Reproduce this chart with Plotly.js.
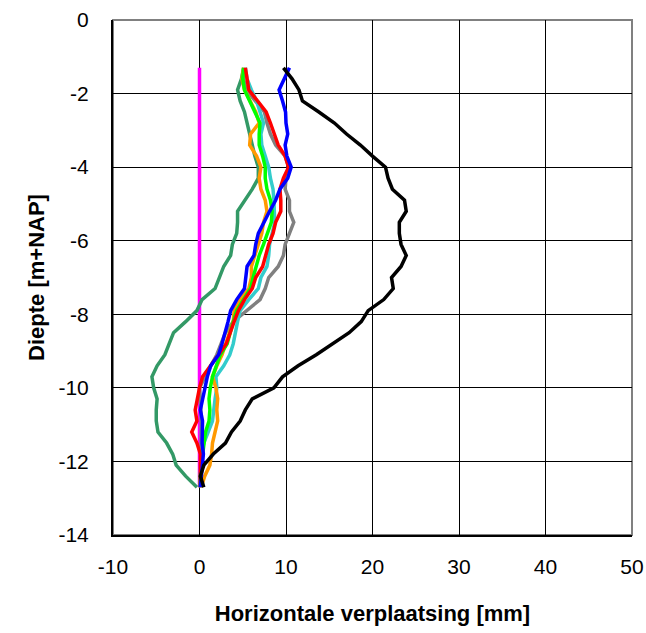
<!DOCTYPE html>
<html>
<head>
<meta charset="utf-8">
<script src="https://cdn.plot.ly/plotly-3.0.1.min.js"></script>
<style>html,body{margin:0;padding:0;background:#fff;}#chart{width:646px;height:633px;}</style>
</head>
<body>
<div id="chart"></div>
<script>
// Depth (m+NAP)
const depth = [-1.3,-1.6,-1.9,-2.2,-2.5,-2.8,-3.1,-3.4,-3.7,-4.0,-4.3,-4.6,-4.9,-5.2,-5.5,-5.8,-6.1,-6.4,-6.7,-7.0,-7.3,-7.6,-7.9,-8.2,-8.5,-8.8,-9.1,-9.4,-9.7,-10.0,-10.3,-10.6,-10.9,-11.2,-11.5,-11.8,-12.1,-12.4,-12.7];

// Horizontal displacement (mm) per measurement
const magenta = [0,0,0,0,0,0,0,0,0,0,0,0,0,0,0,0,0,0,0,0,0,0,0,0,0,0,0,0,0,0,0,0,0,0,0,0,0,0,0];
const seagreen = [5.1,4.85,4.4,4.7,5.2,5.5,5.7,6.0,6.4,6.8,6.8,6.1,5.3,4.4,4.4,4.3,3.8,3.6,2.8,2.3,1.8,0.3,-0.3,-1.6,-3.0,-3.5,-4.0,-4.9,-5.5,-5.3,-4.9,-5.0,-5.0,-4.8,-3.8,-3.1,-2.7,-1.6,-0.3];
const grey = [5.3,5.1,5.4,6.5,7.5,7.8,8.2,8.8,9.9,10.3,10.0,9.9,10.4,10.4,10.9,10.4,9.9,9.7,9.1,8.0,7.6,7.0,5.4,3.9,3.0,2.5,2.0,1.3,0.6,0.0,0.1,0.2,0.2,0.2,0.2,0.2,0.2,0.1,0.1];
const turquoise = [5.3,5.5,6.0,6.6,7.0,7.4,7.1,7.2,7.6,8.0,8.2,8.5,8.6,8.7,8.7,8.4,8.1,8.0,7.8,7.1,6.8,5.7,4.7,4.4,4.2,3.9,3.5,2.8,1.9,2.0,1.8,1.6,1.5,1.0,0.5,0.2,0.1,0.1,0.1];
const orange = [5.1,4.9,5.2,5.9,6.5,6.9,5.9,5.8,6.6,7.1,6.9,7.1,7.6,7.8,7.4,7.2,6.8,6.3,6.0,6.0,5.7,4.7,4.0,3.9,3.5,3.1,2.6,2.0,1.5,1.9,2.1,2.0,2.1,1.8,1.5,1.4,1.2,0.6,0.2];
const lime = [5.1,5.0,5.2,5.8,6.4,7.0,6.9,6.9,7.3,7.6,7.6,7.8,8.2,8.4,8.3,7.9,7.4,6.9,6.5,6.2,5.9,5.1,4.3,3.9,3.6,3.2,2.4,1.9,1.5,1.25,1.1,1.2,1.1,0.7,0.5,0.3,0.2,0.1,0.1];
const red = [5.3,5.5,5.7,6.7,7.7,8.2,8.6,9.1,9.9,10.3,9.7,9.3,9.4,9.4,8.8,8.5,8.0,7.6,7.3,6.5,6.1,5.2,4.5,4.0,3.6,3.1,2.2,1.3,0.35,0.0,-0.3,-0.5,-0.3,-0.9,-0.3,0.1,0.1,0.1,0.1];
const blue = [10.4,9.8,9.2,9.6,9.95,10.0,10.2,9.9,10.1,10.6,10.2,9.3,8.8,8.1,7.5,6.8,6.5,6.3,5.5,5.4,5.2,4.3,3.6,3.3,3.0,2.6,2.2,1.3,0.9,0.6,0.35,0.1,0.35,0.3,0.3,0.45,0.3,0.2,0.1];
const black = [9.7,10.7,11.5,11.9,13.8,15.6,17.0,18.6,20.0,21.5,21.8,22.3,23.7,23.9,23.1,23.1,23.3,23.9,23.3,22.2,22.4,21.3,19.5,18.7,17.3,15.4,13.5,11.4,9.6,8.6,6.1,5.3,4.7,3.7,3.0,1.6,0.5,0.1,0.5];

const xTickVals = [-10,0,10,20,30,40,50];
const yTickVals = [-14,-12,-10,-8,-6,-4,-2,0];
const xTitle = 'Horizontale verplaatsing [mm]';
const yTitle = 'Diepte [m+NAP]';

const series = [
  {x: magenta, color: '#ff00ff'},
  {x: seagreen, color: '#339966'},
  {x: grey, color: '#808080'},
  {x: turquoise, color: '#33cccc'},
  {x: orange, color: '#ff9900'},
  {x: lime, color: '#00ff00'},
  {x: red, color: '#ff0000'},
  {x: blue, color: '#0000ff'},
  {x: black, color: '#000000'}
];

const traces = series.map(s => ({
  type: 'scatter', mode: 'lines', x: s.x, y: depth,
  line: {color: s.color, width: 3.5}, hoverinfo: 'skip', showlegend: false
}));

const font = {family: '"Liberation Sans", Arial, sans-serif', color: '#000'};

const layout = {
  width: 646, height: 633,
  margin: {l: 112.5, r: 14, t: 20, b: 98, pad: 0},
  paper_bgcolor: '#fff', plot_bgcolor: '#fff',
  showlegend: false,
  font: Object.assign({size: 21}, font),
  xaxis: {
    range: [-10, 50], tickvals: xTickVals, ticktext: xTickVals.map(String),
    showgrid: true, gridcolor: '#000', gridwidth: 1,
    zeroline: false, showline: true, linecolor: '#000', linewidth: 2,
    ticks: 'outside', ticklen: 12, tickcolor: 'rgba(0,0,0,0)',
    tickfont: Object.assign({size: 21}, font),
    title: {text: xTitle, font: Object.assign({size: 22, weight: 'bold'}, font), standoff: 28}
  },
  yaxis: {
    range: [-14, 0], tickvals: yTickVals, ticktext: yTickVals.map(String),
    showgrid: true, gridcolor: '#000', gridwidth: 1,
    zeroline: false, showline: true, linecolor: '#000', linewidth: 2,
    ticks: 'outside', ticklen: 18, tickcolor: 'rgba(0,0,0,0)',
    tickfont: Object.assign({size: 21}, font),
    title: {text: yTitle, font: Object.assign({size: 22, weight: 'bold'}, font), standoff: 8}
  },
  shapes: [{
    type: 'rect', xref: 'paper', yref: 'paper', x0: 0, x1: 1, y0: 0, y1: 1,
    line: {color: '#808080', width: 2}, layer: 'below'
  }]
};

Plotly.newPlot('chart', traces, layout, {displayModeBar: false, staticPlot: true});
</script>
</body>
</html>
